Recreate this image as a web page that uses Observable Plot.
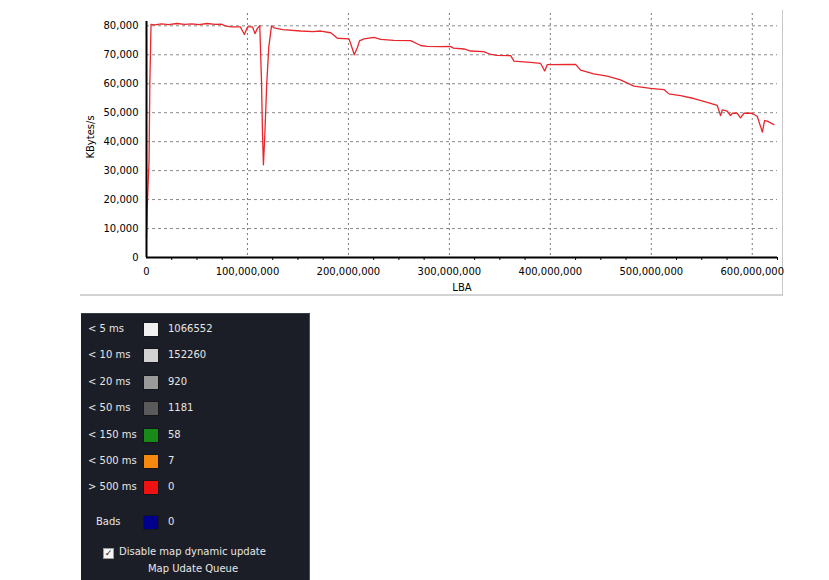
<!DOCTYPE html>
<html>
<head>
<meta charset="utf-8">
<script src="https://cdn.jsdelivr.net/npm/d3@7"></script>
<script src="https://cdn.jsdelivr.net/npm/@observablehq/plot@0.6"></script>
<style>
  html, body { margin: 0; padding: 0; background: #fff; }
  #page { position: relative; width: 829px; height: 580px; overflow: hidden; font-family: "DejaVu Sans", Verdana, sans-serif; }
  #panel { position: absolute; left: 80px; top: 10px; width: 702px; height: 284px; border-right: 1px solid #c8c8c8; border-bottom: 2px solid #d2d2d2; }
  #chart { position: absolute; left: 0; top: 0; }
  .axtitle { position: absolute; font-size: 10px; color: #000; white-space: nowrap; }
  #legend { position: absolute; left: 81px; top: 313px; width: 228px; height: 267px; background: #1c1e27; border-top: 1px solid #3a3c44; border-right: 1px solid #50525a; color: #e6e6e6; font-size: 10px; }
  .lg { position: absolute; white-space: nowrap; line-height: 12px; }
  .sw { position: absolute; width: 14px; height: 13px; border: 1px solid #15161c; }
</style>
</head>
<body>
<div id="page">
  <div id="panel"></div>
  <div id="chart"></div>
  <div class="axtitle" id="ytitle" style="left:90px; top:137px; transform: translate(-50%,-50%) rotate(-90deg);">KBytes/s</div>
  <div class="axtitle" id="xtitle" style="left:462px; top:282px; transform: translateX(-50%);">LBA</div>
  <div id="legend"></div>
</div>
<script>
// ---- chart data ----
const lba = [
  0, 1.0e6, 2.5e6, 3.3e6, 4.5e6, 8e6, 15e6, 22e6, 30e6, 38e6, 45e6, 52e6, 60e6, 68e6, 74e6,
  78e6, 84e6, 93e6, 97e6, 100e6, 105e6, 107.5e6, 110e6, 112.2e6, 113.9e6, 114.9e6, 115.8e6,
  117.1e6, 119.1e6, 121.1e6, 123.8e6, 126.3e6, 135e6, 152.8e6, 165e6, 172.6e6, 182.5e6, 189.1e6,
  200.6e6, 204e6, 205.8e6, 208.9e6, 211e6, 215.4e6, 225.3e6, 232e6, 245e6, 261.7e6, 271.6e6,
  278e6, 291e6, 301e6, 304e6, 314.5e6, 321e6, 334e6, 341e6, 347.5e6, 360.7e6, 364e6, 380.5e6,
  390.4e6, 394.4e6, 397e6, 425e6, 430e6, 443e6, 456.4e6, 469.5e6, 482.8e6, 499.3e6, 512.5e6,
  517.4e6, 529e6, 542.2e6, 555.4e6, 565.3e6, 568.6e6, 570.3e6, 575.2e6, 578.5e6, 580.2e6,
  585.1e6, 588.4e6, 591.7e6, 600e6, 605e6, 610e6, 612.2e6, 614.9e6, 621.4e6
];
const kbytesPerSec = [
  7000, 20000, 33000, 60000, 80500, 80300, 80700, 80400, 80800, 80500, 80700, 80400, 80800, 80500, 80600,
  80000, 79600, 79600, 77000, 79600, 79600, 77300, 79200, 80000, 61000, 42800, 32000,
  41500, 60000, 72600, 80000, 79300, 78700, 78200, 78000, 78200, 77600, 75700,
  75500, 72000, 70000, 72500, 74800, 75500, 76000, 75300, 75000, 74900, 73200,
  72900, 72800, 72900, 72300, 72000, 71300, 71100, 70100, 69800, 69700, 67800, 67400,
  67000, 64400, 66600, 66700, 64700, 63400, 62600, 61300, 59200, 58400, 58000,
  56500, 55900, 54900, 53600, 52500, 49000, 51000, 50500, 49000, 49800,
  49800, 48200, 49800, 49800, 48700, 43300, 47300, 47100, 45900
];
const xTicks = [0, 100e6, 200e6, 300e6, 400e6, 500e6, 600e6];
const xMinorTicks = [25e6, 50e6, 75e6, 125e6, 150e6, 175e6, 225e6, 250e6, 275e6, 325e6, 350e6, 375e6, 425e6, 450e6, 475e6, 525e6, 550e6, 575e6, 625e6];
const yTicks = [0, 10000, 20000, 30000, 40000, 50000, 60000, 70000, 80000];
const xDomain = [0, 625e6];
const yDomain = [0, 84250];

// ---- latency legend data ----
const latencyLabels = ["< 5 ms", "< 10 ms", "< 20 ms", "< 50 ms", "< 150 ms", "< 500 ms", "> 500 ms", "Bads"];
const latencyCounts = [1066552, 152260, 920, 1181, 58, 7, 0, 0];
const latencyColors = ["#f0f0f0", "#d2d2d2", "#9a9a9a", "#5a5a5a", "#178a17", "#f7880f", "#ee1212", "#00008c"];

const data = lba.map((x, i) => ({x, y: kbytesPerSec[i]}));
const fmt = d3.format(",");

const chart = Plot.plot({
  width: 829,
  height: 300,
  marginLeft: 146,
  marginRight: 52,
  marginTop: 13,
  marginBottom: 43,
  x: {domain: xDomain},
  y: {domain: yDomain},
  style: {fontFamily: "DejaVu Sans, Verdana, sans-serif", fontSize: "10px", color: "#000", background: "transparent", overflow: "visible"},
  marks: [
    Plot.gridY(yTicks.filter(d => d > 0), {stroke: "#8a8a8a", strokeOpacity: 1, strokeDasharray: "3,3"}),
    Plot.gridX(xTicks.filter(d => d > 0), {stroke: "#7a7a7a", strokeOpacity: 1, strokeDasharray: "2,3"}),
    Plot.line(data, {x: "x", y: "y", stroke: "#e8262c", strokeWidth: 1.3}),
    Plot.ruleY([0], {stroke: "#000", strokeWidth: 2}),
    Plot.ruleX([0], {y1: 0, y2: 81500, stroke: "#000", strokeWidth: 2}),
    Plot.axisX(xMinorTicks, {tickSize: 3, tickFormat: () => "", label: null, stroke: "#000"}),
    Plot.axisX(xTicks, {tickSize: 0, tickPadding: 10, tickFormat: fmt, label: null}),
    Plot.axisY(yTicks, {tickSize: 0, tickPadding: 8, tickFormat: fmt, label: null})
  ]
});
document.getElementById("chart").appendChild(chart);

// ---- legend panel ----
const legend = document.getElementById("legend");
const ox = 81, oy = 313;
latencyLabels.forEach((lab, i) => {
  const cy = i < 7 ? 328 + i * 26.4 : 521;
  const l = document.createElement("div");
  l.className = "lg";
  l.textContent = lab;
  l.style.left = ((lab === "Bads" ? 96 : 88) - ox) + "px";
  l.style.top = (cy - 6 - oy) + "px";
  legend.appendChild(l);
  const s = document.createElement("div");
  s.className = "sw";
  s.style.background = latencyColors[i];
  s.style.left = (143 - ox) + "px";
  s.style.top = (cy - 7 - oy) + "px";
  legend.appendChild(s);
  const v = document.createElement("div");
  v.className = "lg";
  v.textContent = String(latencyCounts[i]);
  v.style.left = (168 - ox) + "px";
  v.style.top = (cy - 6 - oy) + "px";
  legend.appendChild(v);
});
const cb = document.createElement("div");
cb.className = "lg";
cb.style.left = (103 - ox) + "px";
cb.style.top = (545 - oy) + "px";
cb.innerHTML = '<span style="display:inline-block;width:9px;height:9px;background:#f4f4f4;border:1px solid #9a9a9a;color:#111;font-size:9px;line-height:9px;text-align:center;vertical-align:-1px;margin-right:5px;">✓</span>Disable map dynamic update';
legend.appendChild(cb);
const q = document.createElement("div");
q.className = "lg";
q.textContent = "Map Udate Queue";
q.style.left = (193 - ox) + "px";
q.style.top = (562 - oy) + "px";
q.style.transform = "translateX(-50%)";
legend.appendChild(q);
</script>
</body>
</html>
